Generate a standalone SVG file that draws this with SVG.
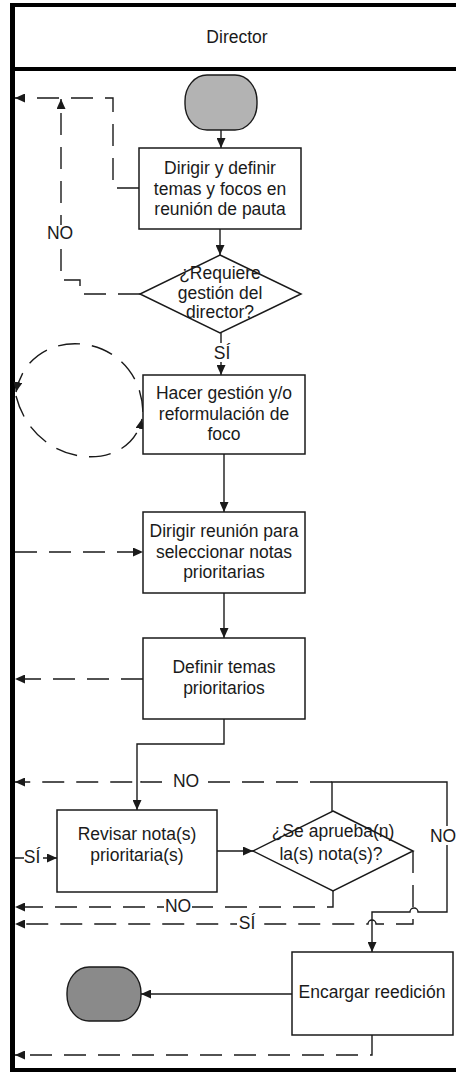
<svg xmlns="http://www.w3.org/2000/svg" width="456" height="1072" viewBox="0 0 456 1072">
<style>
text{font-family:"Liberation Sans",Arial,sans-serif;font-size:17.5px;fill:#1a1a1a;text-anchor:middle}
.box{fill:#fff;stroke:#1a1a1a;stroke-width:1.5}
.ln{fill:none;stroke:#1a1a1a;stroke-width:1.4}
.ds{fill:none;stroke:#1a1a1a;stroke-width:1.4;stroke-dasharray:22 12}
.frame{stroke:#000;fill:none}
.bg{fill:#fff}
</style>
<defs>
<marker id="ah" markerUnits="userSpaceOnUse" markerWidth="10" markerHeight="9" refX="10" refY="4.5" orient="auto">
<path d="M0,0 L10,4.5 L0,9 z" fill="#1a1a1a"/>
</marker>
</defs>
<rect x="0" y="0" width="456" height="1072" fill="#fff"/>
<g id="frame">
<line class="frame" x1="10" y1="5" x2="456" y2="5" stroke-width="4"/>
<line class="frame" x1="10" y1="69" x2="456" y2="69" stroke-width="4"/>
<line class="frame" x1="10" y1="1070" x2="456" y2="1070" stroke-width="4"/>
<line class="frame" x1="12.5" y1="3" x2="12.5" y2="1072" stroke-width="5"/>
<text x="237" y="43">Director</text>
</g>
<g id="connectors">
<path class="ln" d="M221,130 V148" marker-end="url(#ah)"/>
<path class="ln" d="M220,229 V255" marker-end="url(#ah)"/>
<path class="ln" d="M221,333 V375" marker-end="url(#ah)"/>
<path class="ln" d="M224,454 V512" marker-end="url(#ah)"/>
<path class="ln" d="M224,593 V638" marker-end="url(#ah)"/>
<path class="ln" d="M224,719 V744 H137 V810" marker-end="url(#ah)"/>
<path class="ln" d="M217,851 H253" marker-end="url(#ah)"/>
<path class="ln" d="M332,811 V782 H447 V912 H418 a4,4 0 0 0 -8,0 H372 V952" marker-end="url(#ah)"/>
<path class="ln" d="M292,994 H141" marker-end="url(#ah)"/>
<path class="ln" d="M15,858 H57" marker-end="url(#ah)"/>
<path class="ds" d="M139,188 H113 V98 H15" marker-end="url(#ah)"/>
<path class="ds" d="M140,294 H80 V280 H61 V99" marker-end="url(#ah)"/>
<path class="ds" d="M143,412 C140,330 30,320 16,392" marker-end="url(#ah)"/>
<path class="ds" d="M16,396 C35,470 130,475 142,419" marker-end="url(#ah)"/>
<path class="ds" d="M15,552 H143" marker-end="url(#ah)"/>
<path class="ds" d="M143,679 H15" marker-end="url(#ah)"/>
<path class="ds" d="M332,782 H141 a4,4 0 0 0 -8,0 H15" marker-end="url(#ah)"/>
<path class="ds" d="M333,891 V907 H15" marker-end="url(#ah)"/>
<path class="ds" d="M413,851 V924 H376 a4,4 0 0 0 -8,0 H15" marker-end="url(#ah)"/>
<path class="ds" d="M372,1035 V1055 H15" marker-end="url(#ah)"/>
<rect class="bg" x="48" y="225" width="25" height="18"/>
<text x="60" y="239">NO</text>
<rect class="bg" x="212" y="343" width="21" height="19"/>
<text x="222" y="359">SÍ</text>
<rect class="bg" x="172" y="773" width="28" height="17"/>
<text x="186" y="787">NO</text>
<rect class="bg" x="430" y="826" width="26" height="19"/>
<text x="443" y="842">NO</text>
<rect class="bg" x="24" y="848" width="19" height="18"/>
<text x="32" y="863">SÍ</text>
<rect class="bg" x="164" y="898" width="28" height="17"/>
<text x="178" y="912">NO</text>
<rect class="bg" x="237" y="914" width="20" height="18"/>
<text x="247" y="929">SÍ</text>
</g>
<g id="start">
<rect x="185" y="75" width="72" height="55" rx="22" ry="26" fill="#b3b3b3" stroke="#1a1a1a" stroke-width="1.4"/>
</g>
<g id="box1">
<rect class="box" x="139" y="148" width="162" height="81"/>
<text x="220" y="174">Dirigir y definir</text>
<text x="220" y="194.5">temas y focos en</text>
<text x="220" y="215">reunión de pauta</text>
</g>
<g id="dec1">
<polygon class="box" points="220,255 301,294 220,333 140,294"/>
<text x="220" y="279">¿Requiere</text>
<text x="220" y="299">gestión del</text>
<text x="220" y="318">director?</text>
</g>
<g id="box2">
<rect class="box" x="143" y="375" width="162" height="79"/>
<text x="224" y="399">Hacer gestión y/o</text>
<text x="224" y="419.5">reformulación de</text>
<text x="224" y="440">foco</text>
</g>
<g id="box3">
<rect class="box" x="143" y="512" width="162" height="81"/>
<text x="224" y="537">Dirigir reunión para</text>
<text x="224" y="557.5">seleccionar notas</text>
<text x="224" y="578">prioritarias</text>
</g>
<g id="box4">
<rect class="box" x="143" y="638" width="162" height="81"/>
<text x="224" y="673">Definir temas</text>
<text x="224" y="694">prioritarios</text>
</g>
<g id="box5">
<rect class="box" x="57" y="810" width="160" height="82"/>
<text x="137" y="840">Revisar nota(s)</text>
<text x="137" y="861">prioritaria(s)</text>
</g>
<g id="dec2">
<polygon class="box" points="333,811 413,851 333,891 253,851"/>
<text x="333" y="837">¿Se aprueba(n)</text>
<text x="331" y="860">la(s) nota(s)?</text>
</g>
<g id="box6">
<rect class="box" x="292" y="952" width="161" height="83"/>
<text x="372" y="998">Encargar reedición</text>
</g>
<g id="end">
<rect x="67" y="967" width="74" height="54" rx="22" ry="26" fill="#8a8a8a" stroke="#1a1a1a" stroke-width="1.4"/>
</g>
</svg>
